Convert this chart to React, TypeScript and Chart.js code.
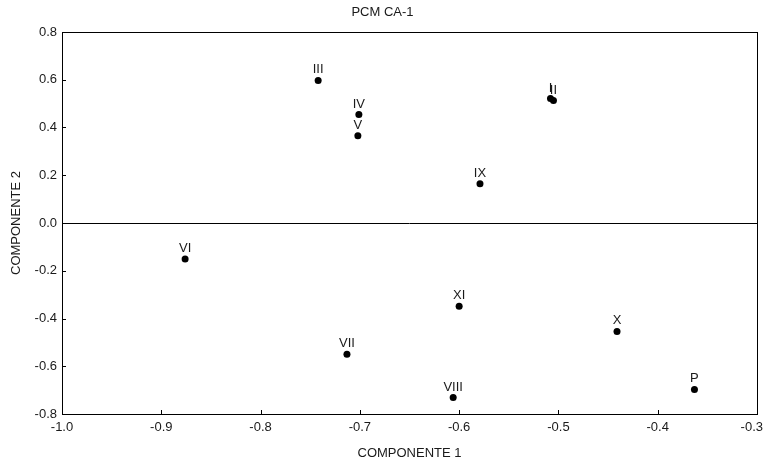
import React, { useEffect, useRef } from "react";
import { Chart, registerables } from "chart.js";

Chart.register(...registerables);

// Case labels and their scores on the first two principal components
const caseLabels = ["I", "II", "III", "IV", "V", "VI", "VII", "VIII", "IX", "X", "XI", "P"];
const component1 = [-0.508, -0.505, -0.742, -0.701, -0.702, -0.876, -0.713, -0.606, -0.579, -0.441, -0.6, -0.363];
const component2 = [0.521, 0.513, 0.597, 0.454, 0.365, -0.151, -0.55, -0.731, 0.164, -0.454, -0.349, -0.697];

const xTicks = [-1.0, -0.9, -0.8, -0.7, -0.6, -0.5, -0.4, -0.3];
const yTicks = [-0.8, -0.6, -0.4, -0.2, 0.0, 0.2, 0.4, 0.6, 0.8];

const FONT = "Arial, 'Liberation Sans', Helvetica, sans-serif";
const INK = "#1a1a1a";

// Frame, zero line, inward tick marks, x tick labels and the case labels above each point
const framePlugin = {
  id: "frameAndLabels",
  afterDatasetsDraw(chart: any) {
    const { ctx, chartArea, width } = chart;
    const { left, right, top, bottom } = chartArea;
    const xs = chart.scales.x;
    const ys = chart.scales.y;
    ctx.save();
    ctx.strokeStyle = "#000";
    ctx.lineWidth = 1;
    ctx.strokeRect(Math.round(left) + 0.5, Math.round(top) + 0.5, Math.round(right - left), Math.round(bottom - top));

    const y0 = Math.round(ys.getPixelForValue(0)) + 0.5;
    ctx.beginPath();
    ctx.moveTo(left, y0);
    ctx.lineTo(right, y0);
    ctx.stroke();

    ctx.beginPath();
    xTicks.forEach((v) => {
      const px = Math.round(xs.getPixelForValue(v)) + 0.5;
      ctx.moveTo(px, bottom);
      ctx.lineTo(px, bottom - 4);
    });
    yTicks.forEach((v) => {
      const py = Math.round(ys.getPixelForValue(v)) + 0.5;
      ctx.moveTo(left, py);
      ctx.lineTo(left + 4, py);
    });
    ctx.stroke();

    ctx.fillStyle = INK;
    ctx.font = `13px ${FONT}`;
    ctx.textAlign = "center";
    ctx.textBaseline = "top";
    xTicks.forEach((v) => {
      const text = v.toFixed(1);
      const half = ctx.measureText(text).width / 2;
      const px = Math.min(xs.getPixelForValue(v), width - half - 2);
      ctx.fillText(text, px, bottom + 7);
    });

    ctx.textBaseline = "alphabetic";
    const meta = chart.getDatasetMeta(0);
    meta.data.forEach((pt: any, i: number) => {
      ctx.fillText(caseLabels[i], pt.x, pt.y - 7);
    });
    ctx.restore();
  },
};

export default function App() {
  const canvasRef = useRef<HTMLCanvasElement | null>(null);

  useEffect(() => {
    if (!canvasRef.current) return;
    const points = component1.map((x, i) => ({ x, y: component2[i] }));
    const chart = new Chart(canvasRef.current, {
      type: "scatter",
      data: {
        datasets: [
          {
            data: points,
            backgroundColor: "#000",
            borderColor: "#000",
            borderWidth: 0,
            pointRadius: 3.5,
            pointHoverRadius: 3.5,
          },
        ],
      },
      options: {
        animation: false,
        responsive: false,
        events: [],
        layout: { padding: 0 },
        plugins: {
          legend: { display: false },
          tooltip: { enabled: false },
          title: {
            display: true,
            text: "PCM CA-1",
            color: INK,
            font: { family: FONT, size: 13, weight: "normal", lineHeight: 1.2 },
            padding: { top: 4.5, bottom: 11.9 },
          },
        },
        scales: {
          x: {
            type: "linear",
            min: -1.0,
            max: -0.3,
            afterBuildTicks: (s: any) => {
              s.ticks = xTicks.map((v) => ({ value: v }));
            },
            afterFit: (s: any) => {
              s.height = 50;
              s.paddingLeft = 0;
              s.paddingRight = 8;
            },
            grid: { display: false, drawTicks: false },
            border: { display: false },
            ticks: { display: false },
            title: {
              display: true,
              text: "COMPONENTE 1",
              color: INK,
              font: { family: FONT, size: 13, lineHeight: 1.2 },
              padding: { top: 0, bottom: 2.5 },
            },
          },
          y: {
            type: "linear",
            min: -0.8,
            max: 0.8,
            afterBuildTicks: (s: any) => {
              s.ticks = yTicks.map((v) => ({ value: v }));
            },
            afterFit: (s: any) => {
              s.width = 62;
              s.paddingTop = 0;
              s.paddingBottom = 0;
            },
            grid: { display: false, drawTicks: false },
            border: { display: false },
            ticks: {
              color: INK,
              font: { family: FONT, size: 13 },
              padding: 5,
              callback: (v: any) => Number(v).toFixed(1),
            },
            title: {
              display: true,
              text: "COMPONENTE 2",
              color: INK,
              font: { family: FONT, size: 13, lineHeight: 1.2 },
              padding: { top: 9, bottom: 0 },
            },
          },
        },
      },
      plugins: [framePlugin],
    });
    return () => chart.destroy();
  }, []);

  return (
    <div style={{ position: "fixed", left: 0, top: 0, width: 765, height: 464, background: "#fff" }}>
      <canvas ref={canvasRef} width={765} height={464} />
    </div>
  );
}
